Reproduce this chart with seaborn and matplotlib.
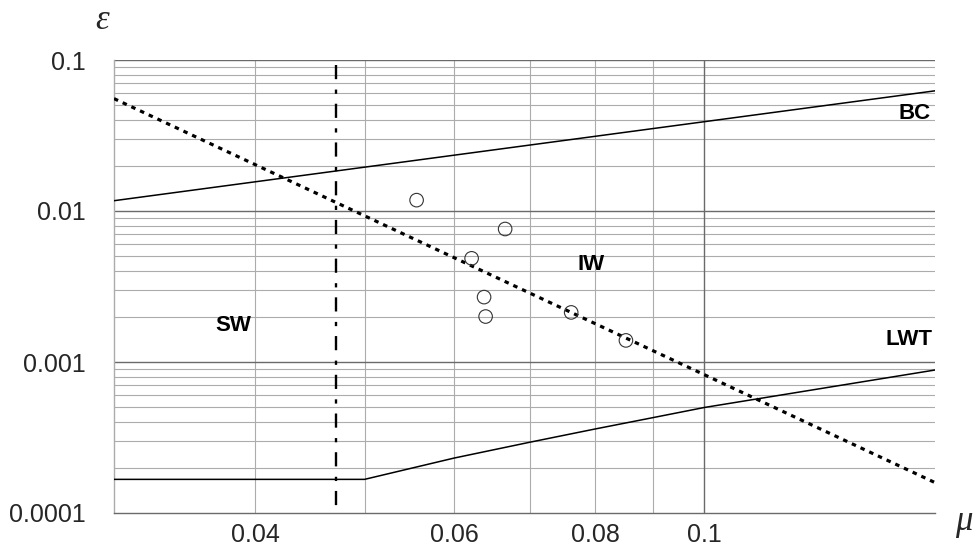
import numpy as np
import pandas as pd
import matplotlib
matplotlib.use("Agg")
import matplotlib.pyplot as plt
import matplotlib.ticker as mticker
import seaborn as sns

# ---- data ----
bc_mu = [0.03, 0.16]
bc_eps = [0.0117, 0.0625]

trans_mu = [0.03, 0.16]
trans_eps = [0.0555, 0.000159]

lwt_mu = [0.03, 0.05, 0.06, 0.07, 0.08, 0.09, 0.10, 0.16]
lwt_eps = [0.000167, 0.000167, 0.000231, 0.000294, 0.00036, 0.000428, 0.0005, 0.000885]

sw_mu = [0.0472, 0.0472]
sw_eps = [0.0927, 0.000105]

pts_mu = [0.0556, 0.0666, 0.0622, 0.0638, 0.0640, 0.0762, 0.0852]
pts_eps = [0.0118, 0.0076, 0.00486, 0.00269, 0.0020, 0.00213, 0.00139]

x_ticks = [0.04, 0.06, 0.08, 0.1]
x_tick_labels = ["0.04", "0.06", "0.08", "0.1"]
y_ticks = [0.0001, 0.001, 0.01, 0.1]
y_tick_labels = ["0.0001", "0.001", "0.01", "0.1"]
region_labels = ["BC", "IW", "SW", "LWT"]

sns.set_style("white")
plt.rcParams['font.family'] = ['Liberation Sans', 'DejaVu Sans']

fig = plt.figure(figsize=(9.75, 5.5), dpi=100)
ax = fig.add_axes([114/975, 1-513/550, (935-114)/975, (513-60)/550])

ax.set_xscale("log")
ax.set_yscale("log")
ax.set_xlim(0.03, 0.16)
ax.set_ylim(0.0001, 0.1)

# grid
minor_c = "#acacac"
major_c = "#6a6a6a"
for d in [0.0001, 0.001, 0.01]:
    for m in range(2, 10):
        ax.axhline(d*m, color=minor_c, lw=0.8, zorder=0)
for d in [0.001, 0.01, 0.1]:
    ax.axhline(d, color=major_c, lw=1.0, zorder=0.5)
for v in [0.04, 0.05, 0.06, 0.07, 0.08, 0.09]:
    ax.axvline(v, color=minor_c, lw=0.8, zorder=0)
ax.axvline(0.1, color=major_c, lw=1.0, zorder=0.5)

df_bc = pd.DataFrame({"mu": bc_mu, "eps": bc_eps})
df_tr = pd.DataFrame({"mu": trans_mu, "eps": trans_eps})
df_lwt = pd.DataFrame({"mu": lwt_mu, "eps": lwt_eps})
df_sw = pd.DataFrame({"mu": sw_mu, "eps": sw_eps})
df_pts = pd.DataFrame({"mu": pts_mu, "eps": pts_eps})

sns.lineplot(data=df_bc, x="mu", y="eps", ax=ax, color="black", lw=1.1, sort=False, zorder=3)
sns.lineplot(data=df_lwt, x="mu", y="eps", ax=ax, color="black", lw=1.1, sort=False, zorder=3)
sns.lineplot(data=df_tr, x="mu", y="eps", ax=ax, color="black", lw=2.3, sort=False, zorder=3,
             linestyle=(0, (1.4, 1.6)))
sns.lineplot(data=df_sw, x="mu", y="eps", ax=ax, color="black", lw=1.7, sort=False, zorder=3,
             linestyle=(0, (6.0, 4.4, 1.8, 4.2)), estimator=None)
sns.scatterplot(data=df_pts, x="mu", y="eps", ax=ax, s=95, facecolor="none",
                edgecolor="#333333", linewidth=0.8, zorder=4)

# ticks
ax.xaxis.set_major_locator(mticker.FixedLocator(x_ticks))
ax.xaxis.set_major_formatter(mticker.FixedFormatter(x_tick_labels))
ax.xaxis.set_minor_locator(mticker.FixedLocator([0.05, 0.07, 0.09]))
ax.xaxis.set_minor_formatter(mticker.NullFormatter())
ax.yaxis.set_major_locator(mticker.FixedLocator(y_ticks))
ax.yaxis.set_major_formatter(mticker.FixedFormatter(y_tick_labels))
ax.yaxis.set_minor_locator(mticker.NullLocator())

ax.tick_params(axis="x", which="major", direction="out", length=5, width=0.8,
               color=major_c, labelsize=18, pad=2)
ax.tick_params(axis="x", which="minor", direction="out", length=5, width=0.8,
               color=major_c)
ax.tick_params(axis="y", which="major", direction="out", length=14, width=1.0,
               color=major_c, labelsize=18, pad=6)
ax.set_xlabel("")
ax.set_ylabel("")

for side in ["top", "right"]:
    ax.spines[side].set_visible(False)
ax.spines["left"].set_color(minor_c)
ax.spines["left"].set_linewidth(1.0)
ax.spines["bottom"].set_color(major_c)
ax.spines["bottom"].set_linewidth(1.0)

# region labels
label_pos = {"BC": (0.9757, 0.8808), "IW": (0.581, 0.5475),
             "SW": (0.145, 0.413), "LWT": (0.968, 0.382)}
for lab in region_labels:
    x, y = label_pos[lab]
    ax.text(x, y, lab, transform=ax.transAxes, ha="center", va="center",
            fontsize=16, fontweight="bold", color="black")

fig.text(0.1046, 0.963, "ε", fontsize=25, family="Liberation Serif", style="italic",
         ha="center", va="center")
fig.text(0.9887, 0.052, "μ", fontsize=25, family="Liberation Serif", style="italic",
         ha="center", va="center")

fig.savefig("out.png", dpi=100)
